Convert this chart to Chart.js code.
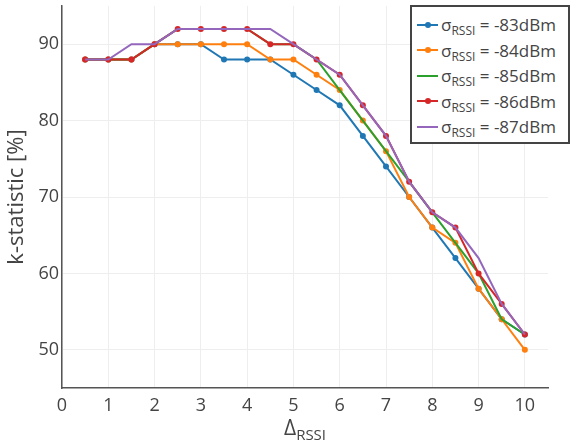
<!DOCTYPE html>
<html>
<head>
<meta charset="utf-8">
<script src="https://cdn.jsdelivr.net/npm/chart.js@4/dist/chart.umd.min.js"></script>
<style>
  html, body { margin: 0; padding: 0; background: #fff; }
  #wrap { position: relative; width: 570px; height: 447px; font-family: "Open Sans", sans-serif; color: #444; }
  #c { position: absolute; left: 0; top: 0; }
  #legend {
    position: absolute; left: 410px; top: 5px; width: 160px; height: 139px;
    box-sizing: border-box; border: 2px solid #444; background: #fff;
    padding-top: 5px;
  }
  .row { height: 25.5px; display: flex; align-items: center; font-size: 17px; white-space: nowrap; }
  .sample { position: relative; width: 21px; height: 2px; margin-left: 5px; margin-right: 3px; }
  .dot { position: absolute; left: 7.5px; top: -2px; width: 6px; height: 6px; border-radius: 50%; }
  .row sub { font-size: 12px; vertical-align: -4px; line-height: 0; }
  #xtitle { position: absolute; top: 414px; left: 0; width: 610px; text-align: center; font-size: 21px; line-height: 26px; }
  #xtitle sub { font-size: 15px; vertical-align: -5px; line-height: 0; }
</style>
</head>
<body>
<div id="wrap">
  <canvas id="c" width="570" height="447"></canvas>
  <div id="legend"></div>
  <div id="xtitle">Δ<sub>RSSI</sub></div>
</div>
<script>
const xValues = [0.5, 1, 1.5, 2, 2.5, 3, 3.5, 4, 4.5, 5, 5.5, 6, 6.5, 7, 7.5, 8, 8.5, 9, 9.5, 10];
const s83 = [88, 88, 88, 90, 90, 90, 88, 88, 88, 86, 84, 82, 78, 74, 70, 66, 62, 58, 54, 52];
const s84 = [88, 88, 88, 90, 90, 90, 90, 90, 88, 88, 86, 84, 80, 76, 70, 66, 64, 58, 54, 50];
const s85 = [88, 88, 88, 90, 92, 92, 92, 92, 90, 90, 88, 84, 80, 76, 72, 68, 64, 60, 54, 52];
const s86 = [88, 88, 88, 90, 92, 92, 92, 92, 90, 90, 88, 86, 82, 78, 72, 68, 66, 60, 56, 52];
const s87 = [88, 88, 90, 90, 92, 92, 92, 92, 92, 90, 88, 86, 82, 78, 72, 68, 66, 62, 56, 52];
const seriesNames = ["-83dBm", "-84dBm", "-85dBm", "-86dBm", "-87dBm"];
const seriesColors = ["#1f77b4", "#ff7f0e", "#2ca02c", "#d62728", "#9467bd"];
const seriesMarkers = [true, true, false, true, false];
const xTicks = [0, 1, 2, 3, 4, 5, 6, 7, 8, 9, 10];
const yTicks = [50, 60, 70, 80, 90];
const yTitle = "k-statistic [%]";

const allSeries = [s83, s84, s85, s86, s87];
const datasets = allSeries.map((s, i) => ({
  label: "σRSSI = " + seriesNames[i],
  data: xValues.map((x, j) => ({ x: x, y: s[j] })),
  borderColor: seriesColors[i],
  backgroundColor: seriesColors[i],
  borderWidth: 2,
  pointRadius: seriesMarkers[i] ? 3 : 0,
  pointBorderWidth: 0,
  pointHoverRadius: 0,
  tension: 0,
  order: allSeries.length - i
}));

// HTML legend (with subscripts)
const leg = document.getElementById('legend');
seriesNames.forEach((n, i) => {
  const row = document.createElement('div');
  row.className = 'row';
  const sample = document.createElement('span');
  sample.className = 'sample';
  sample.style.background = seriesColors[i];
  if (seriesMarkers[i]) {
    const d = document.createElement('span');
    d.className = 'dot';
    d.style.background = seriesColors[i];
    sample.appendChild(d);
  }
  row.appendChild(sample);
  const t = document.createElement('span');
  t.innerHTML = 'σ<sub>RSSI</sub> = ' + n;
  row.appendChild(t);
  leg.appendChild(row);
});

const font = { family: "'Open Sans', sans-serif", size: 18 };
new Chart(document.getElementById('c'), {
  type: 'line',
  data: { datasets: datasets },
  options: {
    responsive: false,
    animation: false,
    events: [],
    layout: { padding: { left: 0, right: 22, top: 6, bottom: 0 } },
    plugins: { legend: { display: false }, tooltip: { enabled: false } },
    scales: {
      x: {
        type: 'linear', min: 0, max: 10.5,
        afterBuildTicks: s => { s.ticks = xTicks.map(v => ({ value: v })); },
        afterFit: s => { s.height = 59; s.paddingLeft = 0; s.paddingRight = 0; },
        grid: { color: '#eeeeee', lineWidth: 1, drawTicks: false },
        border: { display: true, color: '#555', width: 1.5 },
        ticks: { font: font, color: '#444', padding: 7, maxRotation: 0, autoSkip: false },
        title: { display: false }
      },
      y: {
        type: 'linear', min: 45, max: 95,
        afterBuildTicks: s => { s.ticks = yTicks.map(v => ({ value: v })); },
        afterFit: s => { s.width = 62; s.paddingTop = 0; s.paddingBottom = 0; },
        grid: { color: '#eeeeee', lineWidth: 1, drawTicks: false },
        border: { display: true, color: '#555', width: 1.5 },
        ticks: { font: font, color: '#444', padding: 3 },
        title: { display: true, text: yTitle, color: '#444', font: { family: "'Open Sans', sans-serif", size: 22 }, padding: { top: 4, bottom: 0 } }
      }
    }
  }
});
</script>
</body>
</html>
